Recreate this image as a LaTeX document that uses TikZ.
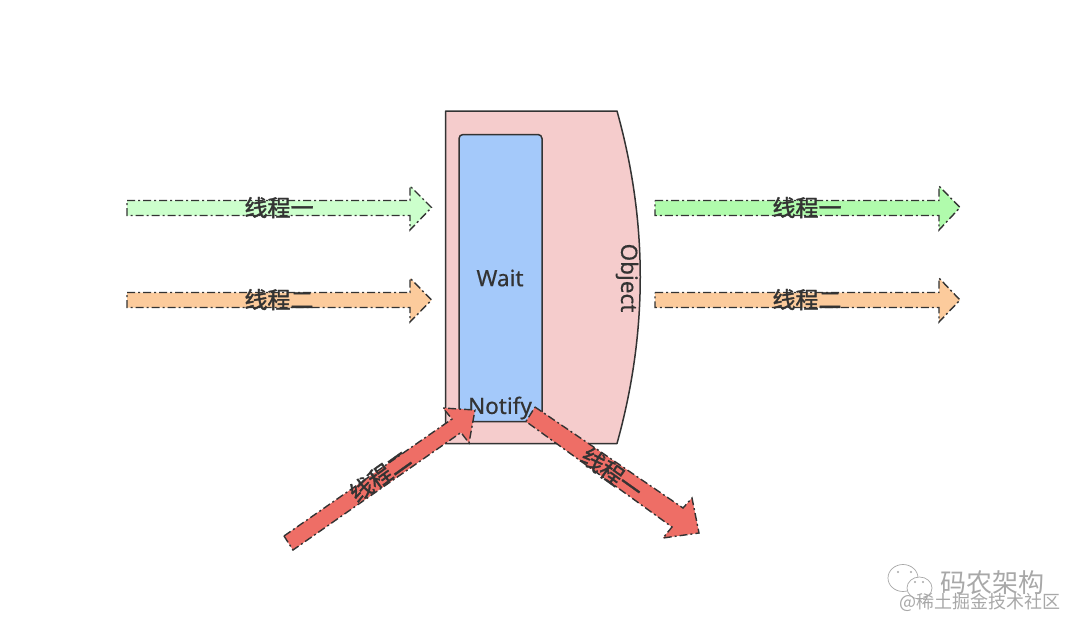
\documentclass[tikz,border=0pt]{standalone}
\usepackage{fontspec}
\setmainfont[FakeBold=0.5]{Noto Sans}
\newfontfamily\cjk{Noto Sans CJK SC}
\newfontfamily\cjkheavy[FakeBold=1.5]{Noto Sans CJK SC}
\definecolor{ink}{HTML}{333333}
\definecolor{pinkfill}{HTML}{F5CCCC}
\definecolor{bluefill}{HTML}{A4C9FA}
\definecolor{palegreen}{HTML}{CCFFCC}
\definecolor{midgreen}{HTML}{B0FBAC}
\definecolor{orangefill}{HTML}{FCCB9C}
\definecolor{redfill}{HTML}{EE6E66}
\definecolor{wm}{HTML}{A8A8A8}
\tikzset{
  box/.style={draw=ink,line width=1.5pt,line join=round},
  flow/.style={draw=ink,line width=1.4pt,dash pattern=on 8pt off 3pt on 2pt off 3pt,line join=miter},
  lab/.style={text=ink,font=\fontsize{22.5}{24}\selectfont,inner sep=0pt},
  tag/.style={text=ink,font=\cjkheavy\fontsize{23}{25}\selectfont,inner sep=0pt},
}
\begin{document}
\begin{tikzpicture}[x=1pt,y=-1pt]
\useasboundingbox[fill=white] (0,0) rectangle (1080,632);
% object and wait area
\draw[box,fill=pinkfill] (445.5,111) -- (617,111) .. controls (648,222) and (648,332) .. (617,443.5) -- (445.5,443.5) -- cycle;
\draw[box,fill=bluefill,rounded corners=4pt] (459,134.5) rectangle (542,421.5);
\node[lab] (wait) at (500,278) {Wait};
\node[lab] (notify) at (500,408) {Notify};
\node[lab,rotate=-90] (object) at (627,278) {Object};
% horizontal arrows
\path[flow,fill=palegreen] (127,200.5) -- (410,200.5) -- (410,186) -- (431.5,207.5) -- (410,230) -- (410,215.5) -- (127,215.5) -- cycle;
\path[flow,fill=orangefill] (127,292.5) -- (410,292.5) -- (410,278) -- (431.5,300) -- (410,322) -- (410,307.5) -- (127,307.5) -- cycle;
\path[flow,fill=midgreen] (655,200.5) -- (939,200.5) -- (939,186) -- (960,207.5) -- (939,230) -- (939,215.5) -- (655,215.5) -- cycle;
\path[flow,fill=orangefill] (655,292.5) -- (939,292.5) -- (939,278) -- (960,300) -- (939,322) -- (939,307.5) -- (655,307.5) -- cycle;
% slanted arrows
\path[flow,fill=redfill] (284,536) -- (452,419) -- (443,408) -- (475,410) -- (469,443) -- (461,432.5) -- (293,550) -- cycle;
\path[flow,fill=redfill] (535,407) -- (683,508) -- (692,498) -- (699,533) -- (663,538) -- (672,527) -- (526,421.5) -- cycle;
% labels
\node[tag] (a1) at (279,207.5) {线程一};
\node[tag] (a2) at (279,299.5) {线程二};
\node[tag] (b1) at (807,207.5) {线程一};
\node[tag] (b2) at (807,299.5) {线程二};
\node[tag,rotate=35.5] (c) at (380,476) {线程二};
\node[tag,rotate=-35.5] (d) at (612,473) {线程一};
% watermark
\draw[wm,line width=.7pt,fill=white] (903,578) ellipse (15 and 13.5);
\draw[wm,line width=.7pt,fill=white] (919.5,588) ellipse (12.5 and 11);
\foreach \p in {(898,572),(911,572),(915,582),(923,582)} \fill[wm] \p circle (1.2);
\node[text=wm,font=\cjk\fontsize{26}{28}\selectfont,inner sep=0pt] (wm1) at (992,583) {码农架构};
\node[text=wm,font=\cjk\fontsize{18}{20}\selectfont,inner sep=0pt] (wm2) at (980,602) {@稀土掘金技术社区};
\end{tikzpicture}
\end{document}
